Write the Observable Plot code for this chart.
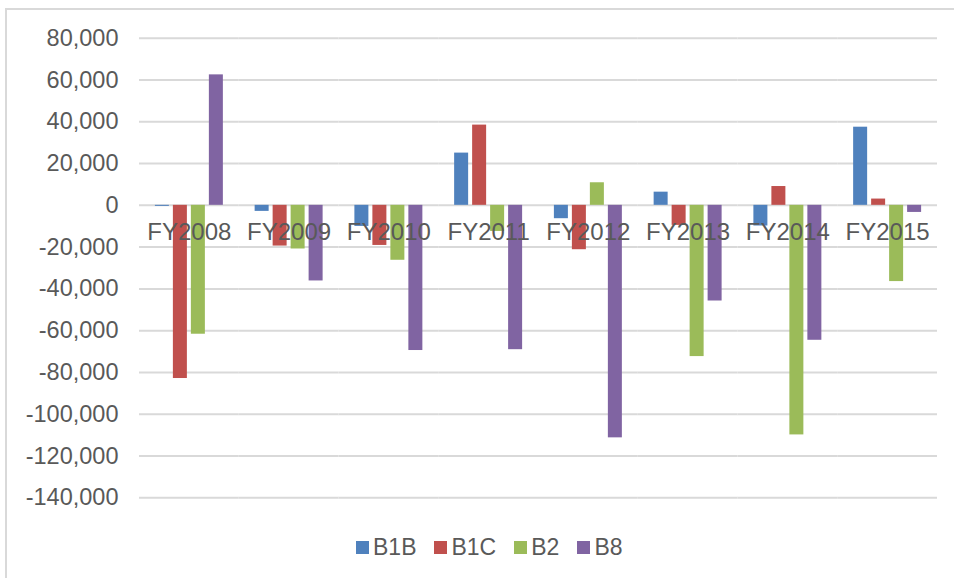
<!DOCTYPE html>
<html><head><meta charset="utf-8">
<script src="https://cdn.jsdelivr.net/npm/d3@7"></script>
<script src="https://cdn.jsdelivr.net/npm/@observablehq/plot@0.6"></script>
<style>
body{margin:0;background:#fff;font-family:"Liberation Sans",Arial,sans-serif;}
#wrap{position:relative;width:954px;height:578px;overflow:hidden;background:#fff}
#frame{position:absolute;left:5px;top:8px;width:1000px;height:600px;border-left:2px solid #d9d9d9;border-top:2px solid #d9d9d9}
#chart{position:absolute;left:0;top:0}
#legend{position:absolute;left:356px;top:534px}
.lg-swatches{font-family:"Liberation Sans",Arial,sans-serif!important;font-size:23px!important;color:#595959!important;margin:0!important;min-height:26px!important;height:26px;align-items:center}
.lg-swatch{margin-right:18px!important}
.lg-swatch svg{margin-right:4px!important}
</style></head><body>
<div id="wrap"><div id="frame"></div><div id="chart"></div><div id="legend"></div></div>
<script>
const years = ["FY2008","FY2009","FY2010","FY2011","FY2012","FY2013","FY2014","FY2015"];
const series = ["B1B","B1C","B2","B8"];
const colors = ["#4F81BD","#C0504D","#9BBB59","#8064A2"];
const b1b = [-500, -2900, -10100, 25000, -6400, 6300, -9900, 37400];
const b1c = [-82900, -19500, -19200, 38400, -21250, -9600, 9000, 3000];
const b2  = [-61700, -20900, -26300, -12500, 10800, -72400, -109900, -36500];
const b8  = [62450, -36200, -69500, -69100, -111300, -45800, -64600, -3400];
const yTicks = [80000, 60000, 40000, 20000, 0, -20000, -40000, -60000, -80000, -100000, -120000, -140000];

const valuesBySeries = [b1b, b1c, b2, b8];
const data = years.flatMap((yr, i) => series.map((s, j) => ({year: yr, series: s, value: valuesBySeries[j][i]})));

const chart = Plot.plot({
  width: 954, height: 520,
  marginLeft: 139, marginRight: 17, marginTop: 37.7, marginBottom: 22.7,
  style: {fontFamily: "Liberation Sans, Arial, sans-serif", color: "#595959", background: "transparent"},
  fx: {domain: years, paddingInner: 0, paddingOuter: 0, round: false, axis: null, label: null},
  x: {domain: series, paddingInner: 0.222, paddingOuter: 0.883, round: false, axis: null},
  y: {domain: [-140000, 80000], axis: null},
  color: {domain: series, range: colors},
  marks: [
    Plot.ruleY(yTicks, {stroke: "#d9d9d9", strokeWidth: 2}),
    Plot.barY(data, {fx: "year", x: "series", y: "value", fill: "series"}),
    Plot.text(years, {fx: d => d, y: d => 0, text: d => d, dy: 27, fontSize: 24, fill: "#595959"}),
    Plot.axisY({ticks: yTicks, tickSize: 0, tickPadding: 21, tickFormat: d => d.toLocaleString("en-US"), fontSize: 23.5, fill: "#595959", label: null})
  ]
});
document.getElementById("chart").appendChild(chart);

const legend = Plot.legend({
  color: {domain: series, range: colors},
  legend: "swatches", swatchSize: 13, className: "lg"
});
document.getElementById("legend").appendChild(legend);
</script>
</body></html>
